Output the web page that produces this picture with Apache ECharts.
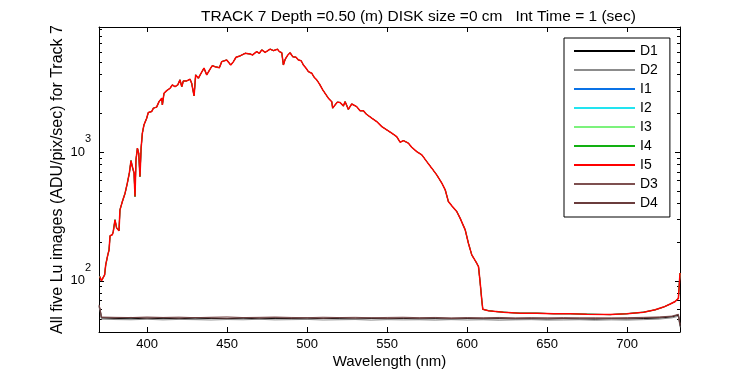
<!DOCTYPE html>
<html>
<head>
<meta charset="utf-8">
<title>TRACK 7 Lu images</title>
<script src="https://cdn.jsdelivr.net/npm/echarts@6/dist/echarts.min.js"></script>
<style>
  html, body { margin: 0; padding: 0; background: #fff; }
  #chart { width: 750px; height: 375px; }
</style>
</head>
<body>
<div id="chart"></div>
<script>
// wavelengths (nm) and counts (I1..I5 overlap)
const lightWave = [
  370.5, 371.5, 373.5, 374.2, 375.5, 376.3, 376.9, 378.3, 378.9, 380.0,
  381.0, 382.5, 383.1, 384.6, 386.3, 387.7, 389.0, 390.0, 390.8, 391.9,
  392.5, 393.1, 394.0, 394.8, 395.6, 396.3, 397.1, 398.1, 399.8, 400.8,
  402.9, 404.0, 406.0, 407.5, 409.2, 409.6, 410.6, 412.3, 414.4, 415.8,
  417.5, 419.2, 420.6, 421.7, 422.7, 424.8, 426.9, 427.9, 429.4, 430.4,
  432.1, 433.8, 435.6, 437.3, 439.4, 440.8, 442.5, 445.2, 446.7, 449.8,
  452.3, 454.0, 455.6, 458.1, 461.3, 464.4, 466.0, 468.5, 470.2, 471.7,
  473.8, 476.9, 479.0, 481.5, 482.7, 484.2, 485.2, 486.3, 488.0, 489.4,
  491.0, 493.1, 494.6, 496.3, 497.7, 499.4, 500.8, 502.9, 504.4, 506.0,
  507.7, 509.8, 511.9, 513.3, 515.4, 516.0, 517.5, 518.9, 520.6, 521.7,
  522.7, 523.8, 525.8, 527.9, 531.0, 533.1, 535.2, 536.9, 540.4, 543.5,
  546.7, 549.8, 552.9, 556.0, 558.1, 560.2, 563.3, 565.4, 568.5, 571.7,
  574.8, 577.9, 581.0, 584.2, 586.3, 588.3, 590.4, 593.5, 595.6, 598.8,
  600.8, 602.9, 606.0, 607.1, 608.1, 609.2, 609.8, 613.3, 616.5, 622.7,
  633.1, 643.5, 654.0, 664.4, 674.8, 689.4, 699.8, 710.2, 717.5, 722.7,
  726.9, 730.0, 732.0, 733.0
];
const lightCounts = [
  108, 100, 111, 133, 159, 174, 224, 228, 241, 298,
  258, 245, 356, 413, 480, 574, 693, 860, 773, 687,
  452, 871, 1074, 982, 646, 1074, 1405, 1630, 1836, 2032,
  2070, 2200, 2240, 2470, 2630, 2330, 2870, 3010, 3140, 3330,
  3230, 3330, 3650, 3230, 3580, 3580, 3690, 3430, 2740, 3990,
  3760, 4110, 4500, 3990, 4420, 4710, 4620, 4540, 5060, 5210,
  4760, 5060, 5470, 5600, 5870, 5800, 5700, 6050, 5870, 6240,
  5970, 6320, 6160, 6320, 6050, 5930, 4760, 5270, 5700, 5930,
  5530, 5470, 5210, 5140, 4760, 4490, 4230, 4110, 3830, 3650,
  3400, 3050, 2790, 2630, 2470, 2200, 2330, 2450, 2430, 2400,
  2290, 2470, 2150, 2370, 2260, 2100, 2100, 1980, 1840, 1730,
  1580, 1490, 1405, 1320, 1195, 1230, 1175, 1093, 1011, 953,
  845, 751, 666, 574, 510, 413, 383, 346, 307, 249,
  196, 159, 137, 129, 98, 70, 60, 58.6, 57.9, 57,
  56, 56, 55.5, 55.5, 55, 54.6, 55.5, 57, 59.5, 62.5,
  66, 69, 73, 115
];

// dark frames
const darkWave = [
  370, 370.7, 371.5, 380, 390, 400, 410, 420, 430, 440,
  450, 460, 470, 480, 490, 500, 510, 520, 530, 540,
  550, 560, 570, 580, 590, 600, 610, 620, 630, 640,
  650, 660, 670, 680, 690, 700, 710, 720, 728, 732, 733
];
const d1Counts = [
  63, 60, 51.4, 51.0, 50.7, 51.2, 50.8, 51.1, 50.6, 51.0,
  50.8, 51.2, 50.7, 51.0, 50.9, 50.6, 51.1, 50.8, 50.5, 50.9,
  50.7, 51.0, 50.6, 50.8, 50.4, 50.9, 50.6, 50.8, 50.5, 50.7,
  50.4, 50.8, 50.5, 50.3, 50.7, 50.5, 50.9, 51.3, 52.4, 54.0, 44.5
];
const d2Counts = [
  62, 59, 50.4, 50.0, 49.8, 50.2, 49.7, 50.1, 49.9, 49.6,
  50.0, 49.8, 50.2, 49.7, 49.9, 50.1, 49.6, 49.8, 50.0, 49.5,
  49.9, 49.7, 49.8, 49.5, 49.9, 49.6, 49.8, 49.4, 49.7, 49.9,
  49.5, 49.6, 49.8, 49.4, 49.7, 49.5, 49.9, 50.4, 51.5, 53.0, 43.5
];
const d3Counts = [
  65, 61, 52.3, 52.0, 51.8, 52.3, 51.9, 52.2, 51.7, 52.1,
  52.4, 51.8, 52.0, 52.3, 51.9, 51.7, 52.1, 51.8, 52.0, 51.6,
  51.9, 52.1, 51.7, 51.9, 51.5, 51.8, 51.6, 51.9, 51.5, 51.7,
  51.4, 51.8, 51.5, 51.6, 51.3, 51.7, 52.0, 52.4, 53.2, 55.0, 46.0
];
const d4Counts = [
  64, 60, 51.8, 51.5, 51.9, 51.4, 51.7, 51.3, 51.8, 51.5,
  51.2, 51.6, 51.4, 51.7, 51.3, 51.5, 51.2, 51.6, 51.3, 51.5,
  51.1, 51.4, 51.2, 51.5, 51.0, 51.3, 51.1, 51.4, 51.0, 51.2,
  51.3, 50.9, 51.2, 51.0, 51.3, 51.1, 51.5, 51.9, 52.8, 54.5, 45.0
];

const xTicks = [400, 450, 500, 550, 600, 650, 700];
const yMinorTicks = [50, 60, 70, 80, 90, 200, 300, 400, 500, 600, 700, 800, 900,
  2000, 3000, 4000, 5000, 6000, 7000, 8000, 9000];
const xMin = 370, xMax = 733;
const yMin = 40, yMax = 9400;

const FONT = "'Liberation Sans', Arial, sans-serif";

const toPairs = (xs, ys) => xs.map((x, i) => [x, ys[i]]);

function makeLine(name, color, xs, ys, width) {
  return {
    name: name,
    type: "line",
    data: toPairs(xs, ys),
    symbol: "none",
    color: color,
    itemStyle: { color: color, borderWidth: 0 },
    lineStyle: { width: width || 1, color: color },
    animation: false,
  };
}

const chart = echarts.init(document.getElementById("chart"));

// value axis in log10 units, only used to place the 2..9 minor ticks
function minorAxis(position) {
  return {
    type: "value",
    position: position,
    min: Math.log10(yMin),
    max: Math.log10(yMax),
    axisLine: { show: false },
    splitLine: { show: false },
    axisLabel: { show: false },
    axisTick: {
      show: true,
      inside: true,
      length: 3,
      customValues: yMinorTicks.map((v) => Math.log10(v)),
      lineStyle: { color: "#000" },
    },
  };
}

function logAxis(position, showLabels) {
  return {
    type: "log",
    logBase: 10,
    position: position,
    min: yMin,
    max: yMax,
    axisLine: { show: true, lineStyle: { color: "#000", width: 1 } },
    splitLine: { show: false },
    axisTick: { show: true, inside: true, length: 5, lineStyle: { color: "#000" } },
    axisLabel: {
      show: showLabels,
      showMinLabel: false,
      showMaxLabel: false,
      margin: 8,
      color: "#000",
      fontFamily: FONT,
      fontSize: 13,
      formatter: (v) => {
        const e = Math.log10(v);
        if (Math.abs(e - Math.round(e)) > 1e-6) return "";
        return "10{sup|" + Math.round(e) + "}";
      },
      rich: {
        sup: { fontSize: 11, fontFamily: FONT, color: "#000", padding: [0, 0, 26, 0] },
      },
    },
  };
}

const option = {
  backgroundColor: "#fff",
  animation: false,
  title: {
    text: "TRACK 7 Depth =0.50 (m) DISK size =0 cm   Int Time = 1 (sec)",
    left: 196,
    top: 4,
    textStyle: { fontFamily: FONT, fontSize: 15.5, fontWeight: "normal", color: "#000" },
  },
  grid: {
    left: 99,
    right: 70,
    top: 27,
    bottom: 43,
    outerBoundsMode: "none",
  },
  legend: {
    orient: "vertical",
    left: 564,
    top: 38,
    padding: [5, 12, 6, 10],
    icon: "rect",
    itemWidth: 61,
    itemHeight: 2,
    itemGap: 3,
    itemStyle: { borderWidth: 0 },
    backgroundColor: "#fff",
    borderColor: "#000",
    borderWidth: 1,
    textStyle: { fontFamily: FONT, fontSize: 14, lineHeight: 16, color: "#000" },
    data: ["D1", "D2", "I1", "I2", "I3", "I4", "I5", "D3", "D4"],
  },
  xAxis: [
    {
      type: "value",
      min: xMin,
      max: xMax,
      position: "bottom",
      name: "Wavelength (nm)",
      nameLocation: "middle",
      nameGap: 22,
      nameMoveOverlap: false,
      nameTextStyle: { fontFamily: FONT, fontSize: 15, color: "#000" },
      axisLine: { show: true, lineStyle: { color: "#000", width: 1 } },
      splitLine: { show: false },
      axisTick: { show: true, inside: true, length: 5, customValues: xTicks, lineStyle: { color: "#000" } },
      axisLabel: { customValues: xTicks, margin: 6, color: "#000", fontFamily: FONT, fontSize: 13 },
    },
    {
      type: "value",
      min: xMin,
      max: xMax,
      position: "top",
      axisLine: { show: true, lineStyle: { color: "#000", width: 1 } },
      splitLine: { show: false },
      axisTick: { show: true, inside: true, length: 5, customValues: xTicks, lineStyle: { color: "#000" } },
      axisLabel: { show: false },
    },
  ],
  yAxis: [
    Object.assign(logAxis("left", true), {
      name: "All five Lu images (ADU/pix/sec) for Track 7",
      nameLocation: "middle",
      nameGap: 33,
      nameMoveOverlap: false,
      nameTextStyle: { fontFamily: FONT, fontSize: 16, color: "#000" },
    }),
    minorAxis("left"),
    logAxis("right", false),
    minorAxis("right"),
  ],
  series: [
    makeLine("D1", "#000000", darkWave, d1Counts),
    makeLine("D2", "#8c8c8c", darkWave, d2Counts),
    makeLine("I1", "#0a72e6", lightWave, lightCounts),
    makeLine("I2", "#22e4f0", lightWave, lightCounts),
    makeLine("I3", "#7cf27c", lightWave, lightCounts),
    makeLine("I4", "#12b012", lightWave, lightCounts),
    makeLine("I5", "#ff0000", lightWave, lightCounts, 1.5),
    makeLine("D3", "#7e5050", darkWave, d3Counts),
    makeLine("D4", "#6a3c3c", darkWave, d4Counts),
  ],
};

chart.setOption(option);
</script>
</body>
</html>
